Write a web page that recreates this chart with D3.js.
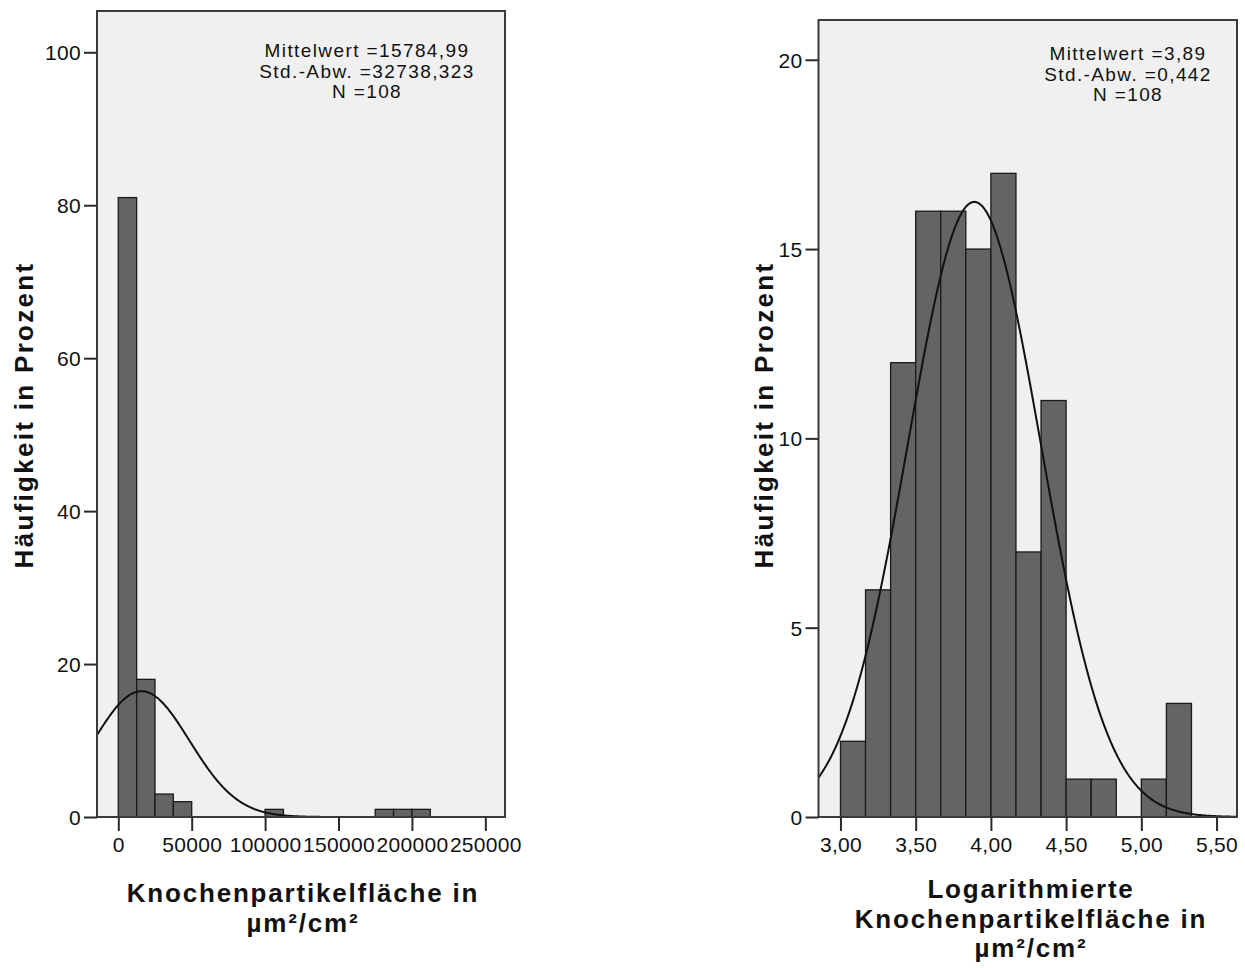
<!DOCTYPE html>
<html>
<head>
<meta charset="utf-8">
<script src="https://cdn.jsdelivr.net/npm/d3@7"></script>
<style>
  html, body { margin: 0; padding: 0; background: #ffffff; }
  svg { display: block; }
  text { font-family: "Liberation Sans", Arial, sans-serif; fill: #111; }
</style>
</head>
<body>
<svg id="chart" width="1245" height="968"></svg>
<script>
// Left histogram: raw particle area (bin width 12500)
const rawBinStarts = [0, 12500, 25000, 37500, 100000, 175000, 187500, 200000];
const rawBinWidth = 12500;
const rawValues = [81, 18, 3, 2, 1, 1, 1, 1];
const rawXTicks = [0, 50000, 100000, 150000, 200000, 250000];
const rawYTicks = [0, 20, 40, 60, 80, 100];
const rawStats = { mean: 15784.99, sd: 32738.323, n: 108 };
const rawStatLabels = ["Mittelwert =15784,99", "Std.-Abw. =32738,323", "N =108"];

// Right histogram: log-transformed particle area (bin width 1/6)
const logBinStarts = [3.0, 3.1667, 3.3333, 3.5, 3.6667, 3.8333, 4.0, 4.1667, 4.3333, 4.5, 4.6667, 5.0, 5.1667];
const logBinWidth = 1 / 6;
const logValues = [2, 6, 12, 16, 16, 15, 17, 7, 11, 1, 1, 1, 3];
const logXTicks = [3.0, 3.5, 4.0, 4.5, 5.0, 5.5];
const logYTicks = [0, 5, 10, 15, 20];
const logStats = { mean: 3.89, sd: 0.442, n: 108 };
const logStatLabels = ["Mittelwert =3,89", "Std.-Abw. =0,442", "N =108"];

const yTitle = "Häufigkeit in Prozent";
const rawXTitle = ["Knochenpartikelfläche in", "µm²/cm²"];
const logXTitle = ["Logarithmierte", "Knochenpartikelfläche in", "µm²/cm²"];

const svg = d3.select("#chart");
const commaFmt = d3.formatLocale({ decimal: ",", thousands: ".", grouping: [3], currency: ["", ""] });

function drawPanel(cfg) {
  const g = svg.append("g");
  const x = d3.scaleLinear().domain(cfg.xDomain).range([cfg.left, cfg.right]);
  const y = d3.scaleLinear().domain(cfg.yDomain).range([cfg.bottom, cfg.top]);

  // plot background
  g.append("rect")
    .attr("x", cfg.left).attr("y", cfg.top)
    .attr("width", cfg.right - cfg.left).attr("height", cfg.bottom - cfg.top)
    .attr("fill", "#f0f0f0");

  // bars
  g.selectAll("rect.bar")
    .data(cfg.starts.map((s, i) => ({ s, v: cfg.values[i] })))
    .join("rect")
    .attr("class", "bar")
    .attr("x", d => x(d.s))
    .attr("width", d => x(d.s + cfg.binWidth) - x(d.s))
    .attr("y", d => y(d.v))
    .attr("height", d => y(0) - y(d.v))
    .attr("fill", "#646464")
    .attr("stroke", "#1a1a1a")
    .attr("stroke-width", 1.3);

  // fitted normal curve from the stated mean / sd / N
  const st = cfg.stats;
  const norm = v => st.n * cfg.binWidth / (st.sd * Math.sqrt(2 * Math.PI)) *
    Math.exp(-0.5 * Math.pow((v - st.mean) / st.sd, 2));
  const xs = d3.range(0, 401).map(i => cfg.xDomain[0] + (cfg.xDomain[1] - cfg.xDomain[0]) * i / 400);
  g.append("path")
    .datum(xs)
    .attr("fill", "none")
    .attr("stroke", "#111")
    .attr("stroke-width", 2)
    .attr("d", d3.line().x(d => x(d)).y(d => y(norm(d))));

  // frame
  g.append("rect")
    .attr("x", cfg.left).attr("y", cfg.top)
    .attr("width", cfg.right - cfg.left).attr("height", cfg.bottom - cfg.top)
    .attr("fill", "none").attr("stroke", "#3a3a3a").attr("stroke-width", 2);

  // axes
  const xAxis = d3.axisBottom(x).tickValues(cfg.xTicks).tickSizeOuter(0).tickSize(14).tickPadding(6)
    .tickFormat(cfg.xFormat);
  const gx = g.append("g").attr("transform", `translate(0,${cfg.bottom})`).call(xAxis);
  const yAxis = d3.axisLeft(y).tickValues(cfg.yTicks).tickSizeOuter(0).tickSize(13).tickPadding(3)
    .tickFormat(d3.format("d"));
  const gy = g.append("g").attr("transform", `translate(${cfg.left},0)`).call(yAxis);
  [gx, gy].forEach(a => {
    a.select(".domain").remove();
    a.selectAll(".tick line").attr("stroke", "#2a2a2a").attr("stroke-width", 2);
    a.selectAll(".tick text")
      .attr("fill", "#1e1e1e")
      .style("font-family", '"Liberation Sans", Arial, sans-serif')
      .style("font-size", "21px")
      .style("letter-spacing", "0.3px");
  });
  gy.selectAll(".tick text").attr("dy", "0.36em");

  // statistics box text
  g.append("text")
    .attr("x", cfg.statX).attr("y", cfg.statY)
    .attr("text-anchor", "middle")
    .style("font-size", "19px").style("letter-spacing", "1.4px")
    .attr("fill", "#1e1e1e")
    .selectAll("tspan").data(cfg.statLabels).join("tspan")
    .attr("x", cfg.statX).attr("dy", (d, i) => i === 0 ? 0 : 20.5)
    .text(d => d);

  // y-axis title
  g.append("text")
    .attr("transform", `translate(${cfg.yTitleX},${cfg.yTitleY}) rotate(-90)`)
    .attr("text-anchor", "middle")
    .style("font-size", "26px").style("font-weight", "bold").style("letter-spacing", "2.3px")
    .text(yTitle);

  // x-axis title
  g.append("text")
    .attr("x", cfg.xTitleX).attr("y", cfg.xTitleY)
    .attr("text-anchor", "middle")
    .style("font-size", "26px").style("font-weight", "bold").style("letter-spacing", "1.8px")
    .selectAll("tspan").data(cfg.xTitle).join("tspan")
    .attr("x", cfg.xTitleX).attr("dy", (d, i) => i === 0 ? 0 : cfg.xTitleStep)
    .text(d => d);
}

drawPanel({
  left: 97, right: 505, top: 11, bottom: 817,
  xDomain: [-14500, 263400], yDomain: [0, 105.4],
  starts: rawBinStarts, binWidth: rawBinWidth, values: rawValues,
  xTicks: rawXTicks, yTicks: rawYTicks, xFormat: d3.format("d"),
  stats: rawStats, statLabels: rawStatLabels, statX: 367, statY: 57,
  yTitleX: 33, yTitleY: 415,
  xTitle: rawXTitle, xTitleX: 303, xTitleY: 902, xTitleStep: 30
});

drawPanel({
  left: 818.5, right: 1237, top: 20, bottom: 817,
  xDomain: [2.854, 5.636], yDomain: [0, 21.05],
  starts: logBinStarts, binWidth: logBinWidth, values: logValues,
  xTicks: logXTicks, yTicks: logYTicks, xFormat: commaFmt.format(".2f"),
  stats: logStats, statLabels: logStatLabels, statX: 1128, statY: 60,
  yTitleX: 773, yTitleY: 415,
  xTitle: logXTitle, xTitleX: 1031, xTitleY: 898, xTitleStep: 29.5
});
</script>
</body>
</html>
